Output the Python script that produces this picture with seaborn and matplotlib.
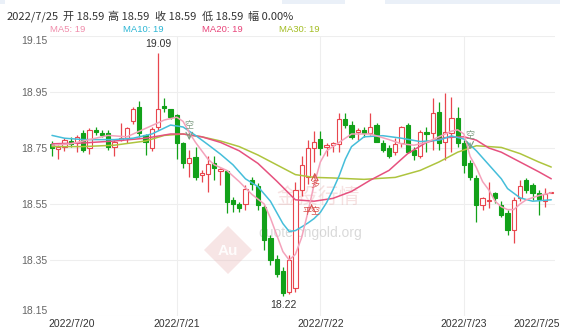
import numpy as np
import pandas as pd
import matplotlib
matplotlib.use("Agg")
import matplotlib.pyplot as plt
import seaborn as sns
from matplotlib.patches import Polygon, Rectangle

# ---------------- data (hourly candles) ----------------
opens = [18.765, 18.745, 18.755, 18.775, 18.767, 18.803, 18.750, 18.813, 18.805, 18.803,
         18.753, 18.780, 18.785, 18.845, 18.898, 18.797, 18.750, 18.824, 18.900, 18.888,
         18.868, 18.767, 18.695, 18.717, 18.654, 18.657, 18.695, 18.668, 18.669, 18.564,
         18.550, 18.550, 18.635, 18.614, 18.540, 18.427, 18.352, 18.312, 18.237, 18.250,
         18.600, 18.648, 18.749, 18.781, 18.755, 18.762, 18.764, 18.852, 18.832, 18.808,
         18.814, 18.802, 18.832, 18.769, 18.749, 18.737, 18.767, 18.832, 18.743, 18.722,
         18.808, 18.802, 18.880, 18.773, 18.805, 18.856, 18.767, 18.695, 18.642, 18.547,
         18.560, 18.588, 18.547, 18.517, 18.457, 18.570, 18.634, 18.618, 18.588, 18.559,
         18.590]
highs = [18.775, 18.760, 18.785, 18.790, 18.797, 18.815, 18.820, 18.826, 18.815, 18.815,
         18.780, 18.840, 18.826, 18.895, 18.918, 18.800, 18.825, 19.090, 18.928, 18.890,
         18.870, 18.770, 18.743, 18.755, 18.672, 18.720, 18.720, 18.677, 18.672, 18.575,
         18.558, 18.618, 18.645, 18.625, 18.545, 18.440, 18.368, 18.326, 18.368, 18.630,
         18.720, 18.780, 18.810, 18.810, 18.767, 18.773, 18.874, 18.874, 18.845, 18.820,
         18.826, 18.874, 18.838, 18.779, 18.761, 18.785, 18.829, 18.838, 18.755, 18.814,
         18.826, 18.928, 18.916, 18.945, 18.933, 18.898, 18.779, 18.707, 18.654, 18.576,
         18.627, 18.594, 18.559, 18.529, 18.576, 18.636, 18.642, 18.624, 18.600, 18.606,
         18.590]
lows = [18.720, 18.710, 18.740, 18.755, 18.737, 18.737, 18.727, 18.797, 18.790, 18.743,
        18.720, 18.775, 18.767, 18.835, 18.790, 18.725, 18.740, 18.815, 18.880, 18.855,
        18.710, 18.677, 18.648, 18.634, 18.630, 18.594, 18.636, 18.618, 18.517, 18.522,
        18.522, 18.528, 18.600, 18.530, 18.386, 18.332, 18.290, 18.220, 18.228, 18.235,
        18.580, 18.620, 18.700, 18.725, 18.720, 18.737, 18.737, 18.820, 18.781, 18.779,
        18.790, 18.797, 18.773, 18.737, 18.713, 18.725, 18.755, 18.731, 18.707, 18.713,
        18.737, 18.743, 18.743, 18.707, 18.737, 18.755, 18.660, 18.636, 18.487, 18.529,
        18.535, 18.553, 18.505, 18.440, 18.410, 18.559, 18.588, 18.564, 18.510, 18.541,
        18.590]
closes = [18.750, 18.755, 18.780, 18.765, 18.790, 18.743, 18.815, 18.808, 18.797, 18.753,
          18.773, 18.785, 18.820, 18.888, 18.805, 18.773, 18.817, 18.888, 18.893, 18.862,
          18.767, 18.698, 18.713, 18.645, 18.662, 18.692, 18.677, 18.675, 18.558, 18.550,
          18.535, 18.602, 18.620, 18.545, 18.420, 18.350, 18.300, 18.233, 18.350, 18.600,
          18.690, 18.749, 18.773, 18.749, 18.762, 18.767, 18.852, 18.832, 18.790, 18.814,
          18.802, 18.826, 18.773, 18.743, 18.720, 18.764, 18.824, 18.737, 18.725, 18.808,
          18.800, 18.876, 18.767, 18.808, 18.856, 18.767, 18.690, 18.648, 18.547, 18.570,
          18.565, 18.570, 18.511, 18.457, 18.565, 18.614, 18.600, 18.588, 18.567, 18.586,
          18.590]

# moving-average lines, read at sampled candle positions
ma5_idx = [0, 3, 6, 9, 12, 15, 18, 20, 21, 22, 23, 24, 25, 26, 28, 30, 32, 34, 35, 36,
           37, 38, 39, 40, 41, 42, 43, 44, 46, 48, 51, 54, 56, 58, 60, 62, 64, 65, 66, 67,
           68, 69, 70, 71, 72, 73, 74, 75, 76, 78, 80]
ma5 = [18.760, 18.765, 18.780, 18.795, 18.790, 18.820, 18.850, 18.860, 18.845, 18.805,
       18.770, 18.740, 18.710, 18.690, 18.670, 18.630, 18.585, 18.550, 18.500, 18.440,
       18.380, 18.350, 18.370, 18.430, 18.520, 18.620, 18.700, 18.740, 18.770, 18.800,
       18.800, 18.780, 18.765, 18.760, 18.770, 18.790, 18.810, 18.815, 18.800, 18.720,
       18.680, 18.630, 18.600, 18.560, 18.540, 18.530, 18.530, 18.550, 18.565, 18.580,
       18.590]
ma10_idx = [0, 2, 5, 10, 13, 16, 19, 21, 23, 25, 27, 29, 31, 33, 35, 37, 38, 39, 40, 41,
            42, 43, 44, 45, 46, 47, 48, 50, 53, 56, 59, 62, 64, 66, 68, 70, 72, 73, 75, 77, 80]
ma10 = [18.795, 18.785, 18.780, 18.780, 18.785, 18.800, 18.832, 18.825, 18.795, 18.762,
        18.728, 18.690, 18.640, 18.612, 18.560, 18.480, 18.452, 18.455, 18.468, 18.482,
        18.498, 18.520, 18.555, 18.600, 18.650, 18.710, 18.755, 18.790, 18.794, 18.785,
        18.773, 18.778, 18.793, 18.782, 18.740, 18.690, 18.640, 18.605, 18.572, 18.560,
        18.565]
ma20_idx = [0, 5, 10, 15, 19, 21, 24, 27, 30, 33, 36, 39, 42, 45, 48, 51, 54, 57, 60,
            63, 66, 68, 70, 72, 75, 78, 80]
ma20 = [18.765, 18.768, 18.775, 18.785, 18.800, 18.800, 18.790, 18.770, 18.740, 18.695,
        18.632, 18.565, 18.560, 18.570, 18.595, 18.635, 18.670, 18.730, 18.770, 18.787,
        18.790, 18.778, 18.750, 18.735, 18.700, 18.665, 18.640]
ma30_idx = [0, 5, 10, 15, 18, 21, 24, 27, 30, 33, 36, 39, 42, 45, 50, 55, 59, 62, 65,
            68, 72, 75, 78, 80]
ma30 = [18.755, 18.755, 18.760, 18.775, 18.795, 18.800, 18.790, 18.775, 18.755, 18.725,
        18.690, 18.655, 18.645, 18.643, 18.638, 18.645, 18.670, 18.700, 18.735, 18.758,
        18.752, 18.730, 18.700, 18.682]

y_ticks = [18.15, 18.35, 18.55, 18.75, 18.95, 19.15]
date_labels = ["2022/7/20", "2022/7/21", "2022/7/22", "2022/7/23", "2022/7/25"]
date_pos = [3.2, 20, 43, 66, 77.7]
day_lines = [20, 43, 66]

# ---------------- style ----------------
sns.set_theme(style="white")
plt.rcParams["font.family"] = ["Liberation Sans", "Noto Sans CJK SC", "DejaVu Sans"]

W, H = 564, 330
fig = plt.figure(figsize=(W / 100, H / 100), dpi=100)
ax = fig.add_axes([50 / W, 14 / H, 505 / W, 280 / H])

RED = "#E8464E"
GREEN = "#12A119"

o = np.array(opens); h = np.array(highs); l = np.array(lows); c = np.array(closes)
idx = np.arange(len(c))
up = c >= o
edge = np.where(up, RED, GREEN)
fill = np.where(up, "white", GREEN)

# grid
for v in y_ticks:
    ax.axhline(v, color="#EEEEEE", lw=0.8, zorder=0)
for d in day_lines:
    ax.axvline(d, color="#EEEEEE", lw=0.8, zorder=0)

# watermark
def px(x, y):
    return x / W, 1 - y / H
dx, dy = 228, 250
diamond = Polygon([px(dx, dy - 24), px(dx + 24, dy), px(dx, dy + 24), px(dx - 24, dy)],
                  closed=True, transform=fig.transFigure, facecolor="#E9B5B5", alpha=0.35,
                  edgecolor="none", zorder=0.5)
ax.add_patch(diamond)
ax.text(*px(228, 251), "Au", transform=fig.transFigure, ha="center", va="center",
        fontsize=11, color="white", alpha=0.9, zorder=0.6, fontweight="bold")
ax.text(*px(318, 197), "金投行情", transform=fig.transFigure, ha="center", va="center",
        fontsize=15, color="#E7A9A9", alpha=0.35, zorder=0.6,
        family=["Noto Sans CJK SC", "DejaVu Sans"])
ax.text(*px(310, 233), "quote.cngold.org", transform=fig.transFigure, ha="center",
        va="center", fontsize=10, color="#BBBBBB", alpha=0.55, zorder=0.6)

# candles
ax.vlines(idx, l, h, colors=edge, linewidth=0.9, zorder=3)
body_b = np.minimum(o, c)
body_h = np.maximum(np.abs(c - o), 0.0018)
ax.bar(idx, body_h, bottom=body_b, width=0.68, color=fill, edgecolor=edge,
       linewidth=0.8, zorder=4)

# moving averages
ma_specs = [(ma30_idx, ma30, "#AEC43E"), (ma20_idx, ma20, "#E6517F"),
            (ma10_idx, ma10, "#45BEDA"), (ma5_idx, ma5, "#F4A2BB")]
for xi, yv, col in ma_specs:
    sns.lineplot(x=xi, y=yv, ax=ax, color=col, linewidth=1.1, zorder=5, legend=False)

# extreme labels
imax = int(np.argmax(h)); imin = int(np.argmin(l))
ax.text(imax, h[imax] + 0.012, f"{h[imax]:.2f}", ha="center", va="bottom", fontsize=7.5,
        color="#333333", zorder=6)
ax.text(imin, l[imin] - 0.012, f"{l[imin]:.2f}", ha="center", va="top", fontsize=7.5,
        color="#333333", zorder=6)

# signal markers
cjk = ["Noto Sans CJK SC", "DejaVu Sans"]
ax.annotate("", xy=(22, 18.768), xytext=(22, 18.812),
            arrowprops=dict(arrowstyle="->", color="#7E9C82", lw=0.8), zorder=6)
ax.text(22, 18.829, "空", ha="center", va="center", fontsize=6.5, color="#7E9C82",
        family=cjk, zorder=6)
ax.annotate("", xy=(67, 18.735), xytext=(67, 18.778),
            arrowprops=dict(arrowstyle="->", color="#7E9C82", lw=0.8), zorder=6)
ax.text(67, 18.795, "空", ha="center", va="center", fontsize=6.5, color="#7E9C82",
        family=cjk, zorder=6)
ax.annotate("", xy=(42.1, 18.672), xytext=(42.1, 18.632),
            arrowprops=dict(arrowstyle="->", color="#D9534F", lw=0.8), zorder=6)
ax.text(42.1, 18.617, "多", ha="center", va="center", fontsize=6.5, color="#D9534F",
        family=cjk, zorder=6)
ax.annotate("", xy=(41.6, 18.560), xytext=(41.6, 18.535),
            arrowprops=dict(arrowstyle="->", color="#D9534F", lw=0.8), zorder=6)
ax.text(41.6, 18.522, "平空", ha="center", va="center", fontsize=6.5, color="#D9534F",
        family=cjk, zorder=6)

# axes
ax.set_xlim(-0.32, 80.6)
ax.set_ylim(18.15, 19.15)
ax.set_yticks(y_ticks)
ax.set_yticklabels([f"{v:.2f}" for v in y_ticks], fontsize=7.5, color="#666666")
ytl = ax.get_yticklabels()
ytl[0].set_va("bottom")
ytl[-1].set_va("top")
ax.set_xticks(date_pos)
ax.set_xticklabels(date_labels, fontsize=7.5, color="#333333")
ax.tick_params(axis="both", length=0, pad=2)
for s in ax.spines.values():
    s.set_visible(False)
ax.set_xlabel(""); ax.set_ylabel("")

# header
for x0, txt in [(7, "2022/7/25"), (63, "开 18.59"), (108, "高 18.59"), (155, "收 18.59"),
                (202, "低 18.59"), (248, "幅 0.00%")]:
    fig.text(x0 / W, 1 - 17 / H, txt, ha="left", va="center", fontsize=8, color="#333333",
             family=cjk)
for xc, txt, col in [(68, "MA5: 19", "#F08DAB"), (143, "MA10: 19", "#2DB6D4"),
                     (222, "MA20: 19", "#E8457A"), (299, "MA30: 19", "#A3BD22")]:
    fig.text(xc / W, 1 - 30 / H, txt, ha="center", va="center", fontsize=6.8, color=col)

# top UI strips
for x0, x1 in [(0, 5), (282, 345), (385, 560)]:
    fig.patches.append(Rectangle((x0 / W, 1 - 4 / H), (x1 - x0) / W, 4 / H,
                                 transform=fig.transFigure, facecolor="#EAF0F8",
                                 edgecolor="none"))

fig.savefig("out.png", dpi=100)
